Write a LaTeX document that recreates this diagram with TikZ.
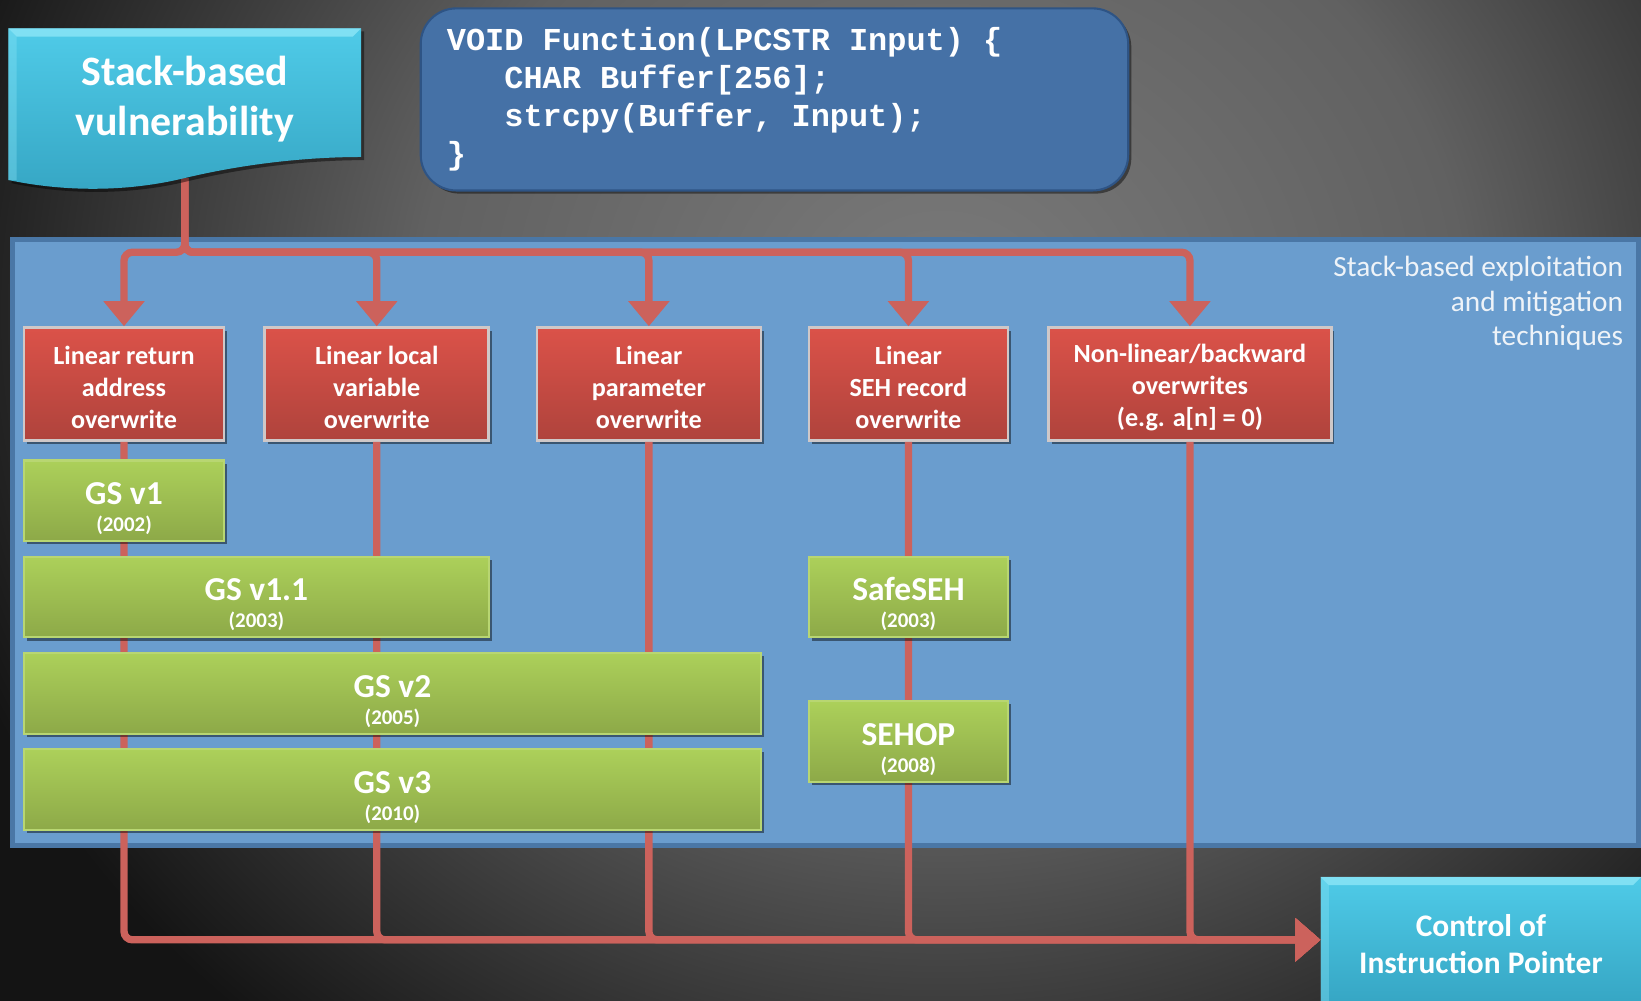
\documentclass[tikz,border=0pt]{standalone}
\usepackage{fontspec}
\setmainfont{Carlito}
\newfontfamily\codefont{Liberation Mono}
\usetikzlibrary{arrows.meta,shadows,calc}
\definecolor{bgin}{HTML}{7A7A7A}
\definecolor{bgmid}{HTML}{616161}
\definecolor{bgout}{HTML}{141414}
\definecolor{panelfill}{HTML}{6A9DCE}
\definecolor{panelborder}{HTML}{4A77A6}
\definecolor{codefill}{HTML}{4571A6}
\definecolor{codeborder}{HTML}{2E5485}
\definecolor{cyantop}{HTML}{4FCBE8}
\definecolor{cyanbot}{HTML}{36A6C4}
\definecolor{cyanlight}{HTML}{8DE6F7}
\definecolor{redtop}{HTML}{DB5249}
\definecolor{redbot}{HTML}{AF433C}
\definecolor{redborder}{HTML}{CFC8C8}
\definecolor{greentop}{HTML}{ACD05A}
\definecolor{greenbot}{HTML}{8DA948}
\definecolor{greenborder}{HTML}{B8D672}
\definecolor{connred}{HTML}{CC625C}
\definecolor{labeltext}{HTML}{EEF3F8}
\pgfdeclareradialshading{bgshade}{\pgfpoint{0bp}{0bp}}{color(0bp)=(bgin); color(10bp)=(bgmid); color(20bp)=(bgout); color(25bp)=(bgout); color(50bp)=(bgout)}
\newcommand\csp{\hphantom{x}}
\begin{document}
\begin{tikzpicture}[x=1pt,y=-1pt,
  boxshadow/.style={drop shadow={opacity=0.45, shadow xshift=3pt, shadow yshift=-3pt, fill=black}},
  conn/.style={draw=connred, line width=7pt, rounded corners=8pt},
  downarrow/.style={-{Triangle[width=38pt,length=24pt]}},
  rightarrow/.style={-{Triangle[width=40pt,length=24pt]}},
  redbox/.style={draw=redborder, line width=2.5pt, top color=redtop, bottom color=redbot,
    text=white, font=\bfseries\fontsize{25}{30.5}\selectfont, align=center,
    minimum height=108pt, inner sep=0pt, boxshadow},
  greenbox/.style={draw=greenborder, line width=2pt, top color=greentop, bottom color=greenbot,
    text=white, font=\bfseries\fontsize{20}{26}\selectfont, align=center,
    minimum height=77pt, inner sep=0pt, boxshadow},
  cyanbox/.style={top color=cyantop, bottom color=cyanbot, text=white, align=center, inner sep=0pt}
]
\useasboundingbox (0,0) rectangle (1568,956);
\begin{scope}
  \clip (0,0) rectangle (1568,956);
  \shade[shading=bgshade] (-350,-825) rectangle (2150,1425);
\end{scope}

% panel
\node[draw=panelborder, fill=panelfill, line width=5pt, minimum width=1554pt, minimum height=579pt,
  inner sep=0pt, anchor=north west] (panel) at (9.5,226.5) {};
\node[font=\fontsize{28}{33}\selectfont, text=labeltext, align=right, anchor=east, inner sep=0pt]
  (plabel) at (1551,290) {Stack-based exploitation\\and mitigation\\techniques};

% code box
\node[draw=codeborder, line width=2pt, fill=codefill, rounded corners=34pt, minimum width=676pt,
  minimum height=174pt, text width=626pt, inner xsep=25pt, inner ysep=0pt, align=left, text=white,
  font=\codefont\bfseries\fontsize{30.5}{36.5}\selectfont, boxshadow] (code) at (740,95)
  {VOID\csp Function(LPCSTR\csp Input)\csp\{\\
   \csp\csp\csp CHAR\csp Buffer[256];\\
   \csp\csp\csp strcpy(Buffer,\csp Input);\\
   \}};

% red boxes
\node[redbox, minimum width=191pt] (r1) at (118.5,367) {\rule{0pt}{24pt}Linear return\\address\\overwrite};
\node[redbox, minimum width=214pt] (r2) at (360,367) {\rule{0pt}{24pt}Linear local\\variable\\overwrite};
\node[redbox, minimum width=214pt] (r3) at (620,367) {\rule{0pt}{24pt}Linear\\parameter\\overwrite};
\node[redbox, minimum width=190pt] (r4) at (868,367) {\rule{0pt}{24pt}Linear\\SEH record\\overwrite};
\node[redbox, minimum width=270pt] (r5) at (1137,367) {\rule{0pt}{24pt}Non-linear/backward\\overwrites\\(e.g. a[n] = 0)};

% control box
\node[cyanbox, minimum width=306pt, minimum height=120pt, font=\bfseries\fontsize{30}{35}\selectfont,
  boxshadow] (ctrl) at (1415,898) {\rule{0pt}{29pt}Control of\\Instruction Pointer};
\fill[cyanlight, opacity=0.8] (ctrl.north west) -- (ctrl.north east) -- ($(ctrl.north east)+(-8,8)$)
  -- ($(ctrl.north west)+(8,8)$) -- cycle;
\fill[cyanlight, opacity=0.35] (ctrl.north west) -- ($(ctrl.north west)+(8,8)$)
  -- ($(ctrl.south west)+(8,0)$) -- (ctrl.south west) -- cycle;

% vulnerability area and its bus point
\node[minimum width=337pt, minimum height=150pt, inner sep=0pt] (vulnarea) at (176.5,95) {};
\coordinate (bus) at (176.5,241);

% connectors
\foreach \n in {r1,r2,r3,r4,r5}
  \draw[conn, downarrow] (vulnarea.south) -- (bus) -| (\n.north);
\foreach \n in {r1,r2,r3,r4,r5}
  \draw[conn, rightarrow] (\n.south) |- (ctrl.west);

% vulnerability shape
\shade[top color=cyantop, bottom color=cyanbot, boxshadow]
  (8,27) -- (345,27) -- (345,150) .. controls (300,150) and (240,155) .. (177,170)
  .. controls (120,184) and (60,183) .. (8,172) -- cycle;
\fill[cyanlight, opacity=0.8] (8,27) -- (345,27) -- (337,35) -- (16,35) -- cycle;
\fill[cyanlight, opacity=0.35] (8,27) -- (16,35) -- (16,172) -- (8,172) -- cycle;
\node[text=white, align=center, inner sep=0pt, font=\bfseries\fontsize{40}{48}\selectfont]
  (vuln) at (vulnarea.center) {Stack-based\\vulnerability};

% green boxes
\node[greenbox, minimum width=191pt] (gs1) at (118.5,478.5)
  {{\fontsize{32}{26}\selectfont\rule{0pt}{36pt}GS v1}\\(2002)};
\node[greenbox, minimum width=444pt] (gs11) at (245,570.5)
  {{\fontsize{32}{26}\selectfont\rule{0pt}{36pt}GS v1.1}\\(2003)};
\node[greenbox, minimum width=704pt] (gs2) at (375,662.5)
  {{\fontsize{32}{26}\selectfont\rule{0pt}{36pt}GS v2}\\(2005)};
\node[greenbox, minimum width=704pt] (gs3) at (375,754.5)
  {{\fontsize{32}{26}\selectfont\rule{0pt}{36pt}GS v3}\\(2010)};
\node[greenbox, minimum width=190pt] (safeseh) at (868,570.5)
  {{\fontsize{32}{26}\selectfont\rule{0pt}{36pt}SafeSEH}\\(2003)};
\node[greenbox, minimum width=190pt] (sehop) at (868,708.5)
  {{\fontsize{32}{26}\selectfont\rule{0pt}{36pt}SEHOP}\\(2008)};
\end{tikzpicture}
\end{document}
